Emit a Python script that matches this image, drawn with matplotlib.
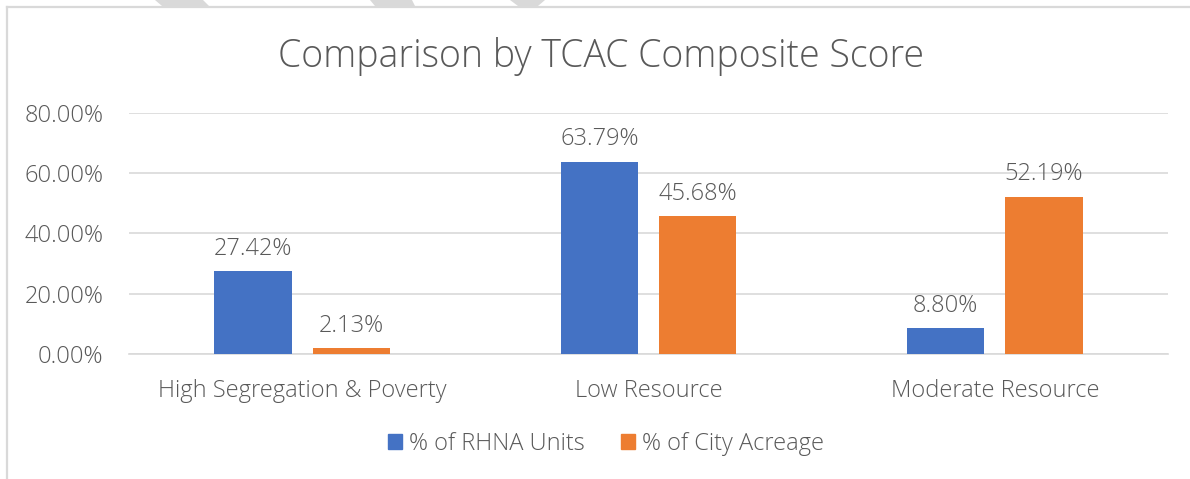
import numpy as np
import matplotlib.pyplot as plt
from matplotlib.patches import Polygon, Patch
from matplotlib.lines import Line2D

plt.rcParams['font.family'] = ['Open Sans', 'DejaVu Sans']

categories = ['High Segregation & Poverty', 'Low Resource', 'Moderate Resource']
rhna_units = [27.42, 63.79, 8.80]
city_acreage = [2.13, 45.68, 52.19]
series_names = ['% of RHNA Units', '% of City Acreage']
yticks = [0, 20, 40, 60, 80]

blue = '#4472C4'
orange = '#ED7D31'
text_gray = '#595959'
grid_gray = '#D9D9D9'

W, H = 1190, 479
fig = plt.figure(figsize=(W / 100, H / 100), dpi=100)

# chart frame (left and top edges) and the grey marks above it
fig.add_artist(Line2D([7 / W, 7 / W], [0, 1 - 7 / H], color=grid_gray, lw=1.6))
fig.add_artist(Line2D([7 / W, 1], [1 - 7 / H, 1 - 7 / H], color=grid_gray, lw=1.6))
for pts in ([(155, 0), (203, 0), (209, 6), (162, 6)],
            [(370, 0), (412, 0), (415, 6), (375, 6)],
            [(510, 0), (545, 0), (538, 6), (518, 6)]):
    fig.add_artist(Polygon([(x / W, 1 - y / H) for x, y in pts], closed=True,
                           facecolor=grid_gray, edgecolor='none'))

ax = fig.add_axes([129 / W, 1 - 354.3 / H, (1168 - 129) / W, (354.3 - 112.7) / H])

x = np.arange(len(categories))
bw = 0.224
off = 0.142
b1 = ax.bar(x - off, rhna_units, bw, color=blue, zorder=3)
b2 = ax.bar(x + off, city_acreage, bw, color=orange, zorder=3)

for bars, vals in ((b1, rhna_units), (b2, city_acreage)):
    for rect, v in zip(bars, vals):
        ax.annotate(f'{v:.2f}%', (rect.get_x() + rect.get_width() / 2, v),
                    xytext=(0, 16), textcoords='offset points',
                    ha='center', va='center', fontsize=17, color=text_gray,
                    fontweight='light')

ax.set_xlim(-0.5, len(categories) - 0.5)
ax.set_ylim(0, 80)
ax.set_yticks(yticks)
ax.set_yticklabels([f'{t:.2f}%' for t in yticks])
ax.set_xticks(x)
ax.set_xticklabels(categories)
ax.tick_params(axis='both', length=0, labelsize=17, labelcolor=text_gray)
ax.tick_params(axis='y', pad=18.5)
ax.tick_params(axis='x', pad=17.5)
for lab in ax.get_xticklabels() + ax.get_yticklabels():
    lab.set_fontweight('light')
ax.grid(axis='y', color=grid_gray, lw=1.2, zorder=0)
for s in ('top', 'right', 'left'):
    ax.spines[s].set_visible(False)
ax.spines['bottom'].set_color(grid_gray)
ax.spines['bottom'].set_linewidth(1.2)

fig.text(601 / W, 1 - 57 / H, 'Comparison by TCAC Composite Score',
         ha='center', va='center', fontsize=27, color=text_gray, fontweight='light')

handles = [Patch(color=blue), Patch(color=orange)]
fig.legend(handles, series_names, loc='center', bbox_to_anchor=(606 / W, 1 - 444 / H),
           ncol=2, frameon=False, labelcolor=text_gray,
           handlelength=0.6, handleheight=0.6, handletextpad=0.3, columnspacing=1.55,
           prop={'weight': 'light', 'size': 17})

fig.savefig('out.png', dpi=100)
